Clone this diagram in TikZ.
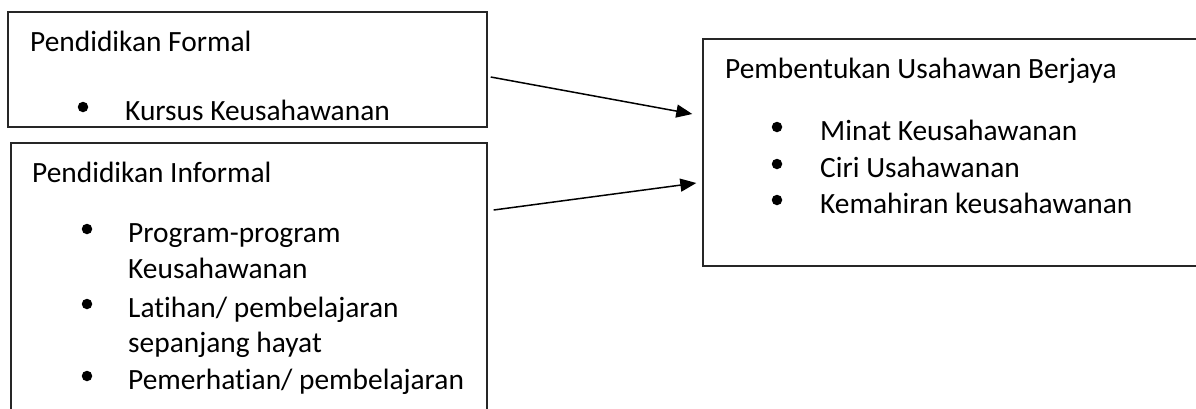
\documentclass[tikz,border=0pt]{standalone}
\usepackage{fontspec}
\setmainfont{Carlito}[Ligatures=NoCommon]
\usetikzlibrary{arrows.meta}
\begin{document}
\begin{tikzpicture}[x=1pt,y=-1pt,
  box/.style={draw=black!85,line width=1.4pt,inner sep=0pt,rectangle},
  txt/.style={anchor=base west,inner sep=0pt,font=\fontsize{29.4}{35}\selectfont},
  bul/.style={circle,fill=black,inner sep=0pt,minimum size=10.5pt},
  arr/.style={line width=1.5pt,-{Triangle[length=16pt,width=13pt]}}]
\useasboundingbox (0,0) rectangle (1196,408);
\clip (0,0) rectangle (1196,408);
\fill[white] (0,0) rectangle (1196,408);
% boxes
\node[box,minimum width=479pt,minimum height=115pt] (f) at (247.5,69.5) {};
\node[box,minimum width=476pt,minimum height=287pt] (i) at (249,286.5) {};
\node[box,minimum width=520pt,minimum height=227pt] (p) at (963,152.5) {};
% box 1
\node[txt] (ft) at (30,51) {Pendidikan Formal};
\node[bul] (fb1) at (83,107) {};
\node[txt] (f1) at (125,120) {Kursus Keusahawanan};
% box 2
\node[txt] (it) at (32,182) {Pendidikan Informal};
\node[bul] (ib1) at (87,229) {};
\node[txt] (i1) at (128,242) {Program-program};
\node[txt] (i2) at (128,278) {Keusahawanan};
\node[bul] (ib2) at (87,304) {};
\node[txt] (i3) at (128,317) {Latihan/ pembelajaran};
\node[txt] (i4) at (128,352) {sepanjang hayat};
\node[bul] (ib3) at (87,376) {};
\node[txt] (i5) at (128,389) {Pemerhatian/ pembelajaran};
% box 3
\node[txt] (pt) at (725,78) {Pembentukan Usahawan Berjaya};
\node[bul] (pb1) at (777,127) {};
\node[txt] (p1) at (820,140) {Minat Keusahawanan};
\node[bul] (pb2) at (777,164) {};
\node[txt] (p2) at (820,177) {Ciri Usahawanan};
\node[bul] (pb3) at (777,200) {};
\node[txt] (p3) at (820,213) {Kemahiran keusahawanan};
% arrows
\coordinate (a1s) at ([xshift=3pt,yshift=-7.5pt]f.east);
\coordinate (a1e) at ([xshift=-10pt,yshift=38.5pt]p.west);
\coordinate (a2s) at ([xshift=6pt]i.east |- 0,210);
\coordinate (a2e) at ([xshift=-6pt,yshift=-30.5pt]p.west);
\draw[arr] (a1s) -- (a1e);
\draw[arr] (a2s) -- (a2e);
\end{tikzpicture}
\end{document}
